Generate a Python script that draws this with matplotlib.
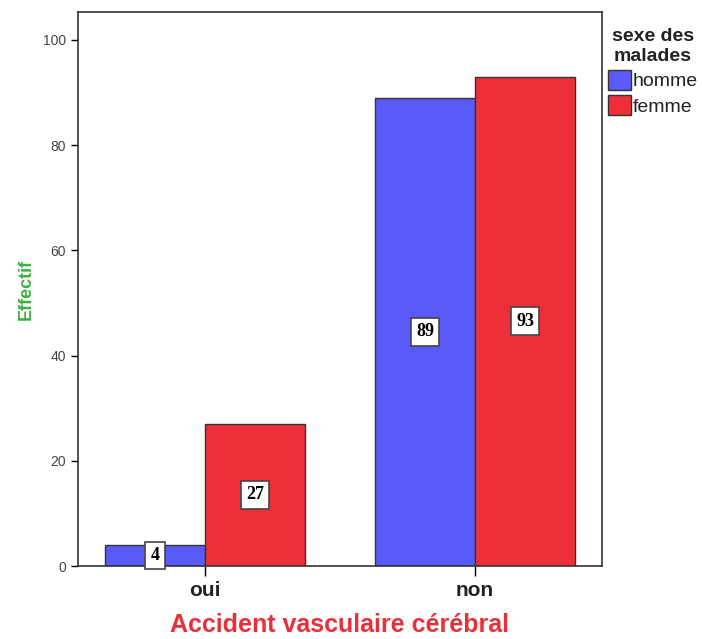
import numpy as np
import matplotlib
matplotlib.use("Agg")
import matplotlib.pyplot as plt

plt.rcParams['font.family'] = ['Liberation Sans', 'DejaVu Sans']

categories = ["oui", "non"]
homme = [4, 89]
femme = [27, 93]
series_names = ["homme", "femme"]

col_h = "#5a5af8"
col_f = "#ee2f3a"

fig = plt.figure(figsize=(7.02, 6.39), dpi=100)
ax = fig.add_axes([78/702, 1 - 566/639, 524/702, 554/639])

x = np.arange(len(categories))
w = 0.37
bh = ax.bar(x - w/2, homme, w, color=col_h, edgecolor="#333333", linewidth=1, label=series_names[0])
bf = ax.bar(x + w/2, femme, w, color=col_f, edgecolor="#333333", linewidth=1, label=series_names[1])

for bars, vals in [(bh, homme), (bf, femme)]:
    for b, v in zip(bars, vals):
        ax.text(b.get_x() + b.get_width()/2, v/2, str(v), ha="center", va="center",
                fontsize=13, fontweight="bold", family="Liberation Serif",
                bbox=dict(boxstyle="square,pad=0.3", fc="white", ec="#444444", lw=1.2))

ax.set_xlim(-0.47, 1.47)
ax.set_ylim(0, 105.3)
ax.set_yticks([0, 20, 40, 60, 80, 100])
ax.set_xticks(x)
ax.set_xticklabels(categories, fontsize=15, fontweight="bold", color="#222222")
ax.tick_params(axis="y", labelsize=10, labelcolor="#444444", length=5, width=1)
ax.tick_params(axis="x", length=7, width=1, pad=4)
for s in ax.spines.values():
    s.set_color("#333333")
    s.set_linewidth(1.2)

ax.set_ylabel("Effectif", color="#3cb043", fontsize=13, fontweight="bold")
ax.yaxis.set_label_coords(-0.082, 0.5)
ax.set_xlabel("Accident vasculaire cérébral", color="#e8303a", fontsize=18, fontweight="bold",
              va="center")
ax.xaxis.set_label_coords(0.5, -0.106)

leg = ax.legend(title="sexe des\nmalades", loc="upper left", bbox_to_anchor=(0.985, 0.995),
                frameon=False, fontsize=14, title_fontproperties={"weight": "bold", "size": 14},
                handlelength=1.2, handleheight=1.2, handletextpad=0.1, borderaxespad=0.3,
                labelspacing=0.25)
leg._legend_box.align = "center"
for t in leg.get_texts():
    t.set_color("#222222")
leg.get_title().set_color("#222222")
leg.get_title().set_multialignment("center")

fig.savefig("out.png", dpi=100)
